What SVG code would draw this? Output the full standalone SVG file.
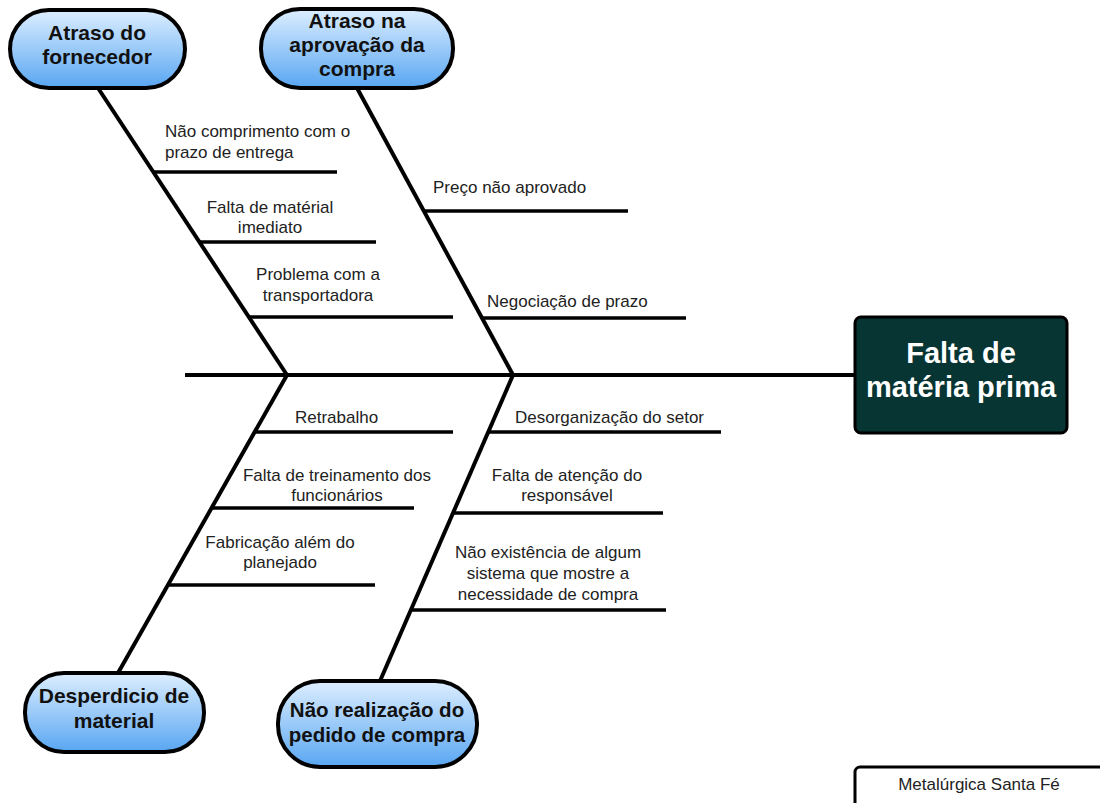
<svg xmlns="http://www.w3.org/2000/svg" width="1100" height="803" viewBox="0 0 1100 803">
  <defs>
    <linearGradient id="pillFill" x1="0" y1="0" x2="0" y2="1">
      <stop offset="0" stop-color="#ddeeff"/>
      <stop offset="1" stop-color="#58a6f2"/>
    </linearGradient>
    <style>
      .bone { stroke: #000; stroke-width: 4; fill: none; stroke-linecap: butt; }
      .rib { stroke: #000; stroke-width: 3.5; fill: none; }
      .pill { fill: url(#pillFill); stroke: #000; stroke-width: 4; }
      .cat { font-family: "Liberation Sans", Arial, sans-serif; font-weight: bold; font-size: 21px; fill: #111; text-anchor: middle; }
      .lbl { font-family: "Liberation Sans", Arial, sans-serif; font-size: 17px; fill: #222; }
      .mid { text-anchor: middle; }
      .head { font-family: "Liberation Sans", Arial, sans-serif; font-weight: bold; font-size: 29px; fill: #fff; text-anchor: middle; }
    </style>
  </defs>
  <rect width="1100" height="803" fill="#fff"/>

  <!-- spine, bones and ribs -->
  <g id="connectors">
    <line class="bone" x1="185" y1="375" x2="855" y2="375"/>
    <line class="bone" x1="98" y1="88" x2="287" y2="375"/>
    <line class="bone" x1="357" y1="88" x2="513" y2="375"/>
    <line class="bone" x1="287" y1="375" x2="118" y2="673"/>
    <line class="bone" x1="513" y1="375" x2="380" y2="681"/>

    <line class="rib" x1="153" y1="172" x2="337" y2="172"/>
    <line class="rib" x1="199" y1="242" x2="376" y2="242"/>
    <line class="rib" x1="249" y1="317" x2="453" y2="317"/>

    <line class="rib" x1="423" y1="211" x2="628" y2="211"/>
    <line class="rib" x1="481" y1="318" x2="686" y2="318"/>

    <line class="rib" x1="254" y1="432" x2="453" y2="432"/>
    <line class="rib" x1="211" y1="508" x2="414" y2="508"/>
    <line class="rib" x1="167" y1="585" x2="375" y2="585"/>

    <line class="rib" x1="488" y1="432" x2="721" y2="432"/>
    <line class="rib" x1="453" y1="513" x2="663" y2="513"/>
    <line class="rib" x1="410" y1="610" x2="666" y2="610"/>
  </g>

  <!-- rib labels -->
  <g id="labels">
    <text class="lbl" x="165" y="137">Não comprimento com o</text>
    <text class="lbl" x="165" y="158">prazo de entrega</text>
    <text class="lbl mid" x="270" y="213">Falta de matérial</text>
    <text class="lbl mid" x="270" y="233">imediato</text>
    <text class="lbl mid" x="318" y="280">Problema com a</text>
    <text class="lbl mid" x="318" y="301">transportadora</text>

    <text class="lbl" x="433" y="193">Preço não aprovado</text>
    <text class="lbl" x="487" y="307">Negociação de prazo</text>

    <text class="lbl" x="295" y="423">Retrabalho</text>
    <text class="lbl mid" x="337" y="481">Falta de treinamento dos</text>
    <text class="lbl mid" x="337" y="501">funcionários</text>
    <text class="lbl mid" x="280" y="548">Fabricação além do</text>
    <text class="lbl mid" x="280" y="568">planejado</text>

    <text class="lbl" x="515" y="423">Desorganização do setor</text>
    <text class="lbl mid" x="567" y="481">Falta de atenção do</text>
    <text class="lbl mid" x="567" y="501">responsável</text>
    <text class="lbl mid" x="548" y="558">Não existência de algum</text>
    <text class="lbl mid" x="548" y="579">sistema que mostre a</text>
    <text class="lbl mid" x="548" y="600">necessidade de compra</text>
  </g>

  <g id="cat-fornecedor">
    <rect class="pill" x="10" y="10" width="175" height="78" rx="39" ry="39"/>
    <text class="cat" x="97" y="40">Atraso do</text>
    <text class="cat" x="97" y="64">fornecedor</text>
  </g>

  <g id="cat-aprovacao">
    <rect class="pill" x="261" y="9" width="192" height="79" rx="39" ry="39"/>
    <text class="cat" x="357" y="28">Atraso na</text>
    <text class="cat" x="357" y="52">aprovação da</text>
    <text class="cat" x="357" y="76">compra</text>
  </g>

  <g id="cat-desperdicio">
    <rect class="pill" x="25" y="673" width="179" height="79" rx="39" ry="39"/>
    <text class="cat" x="114" y="703">Desperdicio de</text>
    <text class="cat" x="114" y="728">material</text>
  </g>

  <g id="cat-pedido">
    <rect class="pill" x="278" y="681" width="199" height="86" rx="42" ry="42"/>
    <text class="cat" x="377" y="717" style="font-size:20.5px">Não realização do</text>
    <text class="cat" x="377" y="742" style="font-size:20.5px">pedido de compra</text>
  </g>

  <g id="effect">
    <rect x="855" y="317" width="212" height="116" rx="6" ry="6" fill="#073533" stroke="#000" stroke-width="3"/>
    <text class="head" x="961" y="363">Falta de</text>
    <text class="head" x="961" y="397">matéria prima</text>
  </g>

  <g id="footer">
    <rect x="855" y="767" width="260" height="50" rx="5" ry="5" fill="#fff" stroke="#000" stroke-width="3"/>
    <text class="lbl mid" x="979" y="790">Metalúrgica Santa Fé</text>
  </g>
</svg>
